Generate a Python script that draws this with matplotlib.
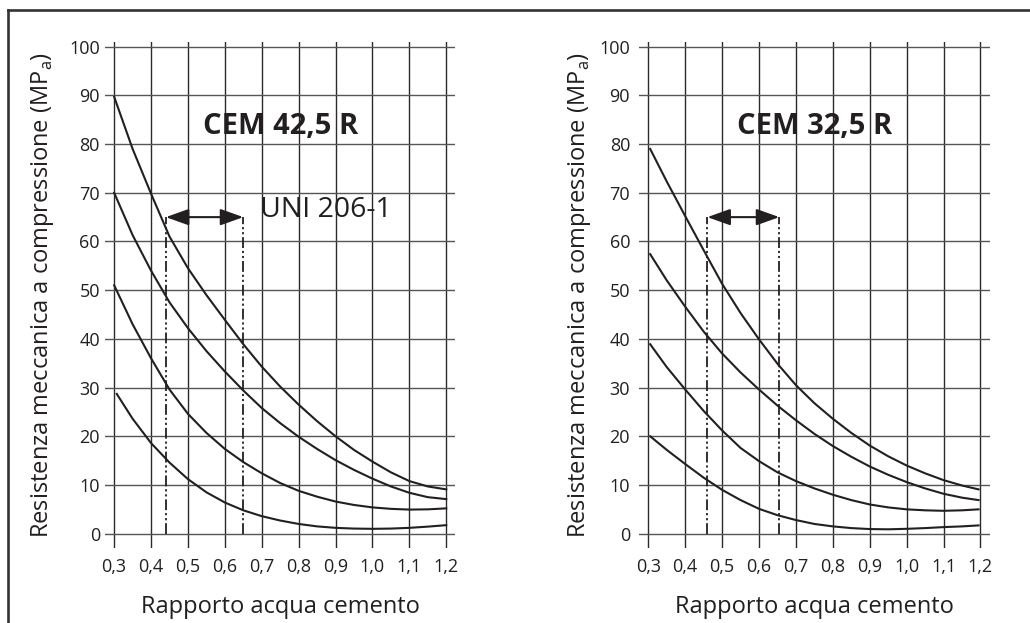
import numpy as np
import matplotlib
matplotlib.use("Agg")
import matplotlib.pyplot as plt
from matplotlib.lines import Line2D

plt.rcParams['font.family'] = ['Open Sans', 'DejaVu Sans']
plt.rcParams['mathtext.fontset'] = 'custom'
plt.rcParams['mathtext.rm'] = 'Open Sans'

# --- data ---
x_ticks = [0.3, 0.4, 0.5, 0.6, 0.7, 0.8, 0.9, 1.0, 1.1, 1.2]
x_tick_labels = ['0,3', '0,4', '0,5', '0,6', '0,7', '0,8', '0,9', '1,0', '1,1', '1,2']
y_ticks = [0, 10, 20, 30, 40, 50, 60, 70, 80, 90, 100]

# CEM 42,5 R
x_42 = [0.3, 0.35, 0.4, 0.45, 0.5, 0.55, 0.6, 0.65, 0.7, 0.75,
        0.8, 0.85, 0.9, 0.95, 1.0, 1.05, 1.1, 1.15, 1.2]
x_42_low = [0.307, 0.35, 0.4, 0.45, 0.5, 0.55, 0.6, 0.65, 0.7, 0.75,
            0.8, 0.85, 0.9, 0.95, 1.0, 1.05, 1.1, 1.15, 1.2]
c42_1 = [89.7, 79.0, 69.8, 61.0, 54.5, 49.0, 43.9, 38.9, 34.3, 30.2,
         26.5, 23.1, 20.0, 17.2, 14.8, 12.6, 10.8, 9.7, 9.1]
c42_2 = [70.0, 61.3, 54.0, 47.5, 42.2, 37.5, 33.3, 29.4, 25.8, 22.7,
         19.9, 17.4, 15.1, 13.1, 11.3, 9.7, 8.4, 7.5, 7.1]
c42_3 = [51.0, 43.0, 36.0, 29.6, 24.6, 20.7, 17.4, 14.7, 12.4, 10.4,
         8.8, 7.6, 6.6, 5.9, 5.4, 5.1, 4.95, 5.0, 5.2]
c42_4 = [28.7, 23.6, 18.6, 14.6, 11.2, 8.5, 6.4, 4.8, 3.6, 2.7,
         2.0, 1.5, 1.2, 1.05, 1.0, 1.05, 1.2, 1.45, 1.75]
uni_42 = [0.44, 0.65]

# CEM 32,5 R
x_32 = [0.305, 0.35, 0.4, 0.45, 0.5, 0.55, 0.6, 0.65, 0.7, 0.75,
        0.8, 0.85, 0.9, 0.95, 1.0, 1.05, 1.1, 1.15, 1.195]
c32_1 = [79.0, 72.3, 65.2, 58.2, 51.3, 45.3, 39.9, 34.9, 30.5, 26.8,
         23.6, 20.7, 18.1, 15.9, 14.0, 12.4, 11.0, 9.9, 9.1]
c32_2 = [57.4, 52.0, 46.6, 41.5, 37.0, 33.1, 29.6, 26.3, 23.3, 20.5,
         18.0, 15.8, 13.8, 12.1, 10.6, 9.3, 8.2, 7.4, 6.9]
c32_3 = [38.9, 34.2, 29.6, 25.2, 21.2, 17.6, 14.9, 12.6, 10.8, 9.3,
         8.0, 6.9, 6.0, 5.4, 5.0, 4.8, 4.7, 4.8, 5.0]
c32_4 = [20.0, 17.2, 14.3, 11.5, 9.0, 6.9, 5.1, 3.8, 2.8, 2.0,
         1.5, 1.15, 0.95, 0.9, 1.0, 1.15, 1.35, 1.5, 1.7]
uni_32 = [0.46, 0.655]
uni_top = 65

ylabel = 'Resistenza meccanica a compressione (MP$_\\mathregular{a}$)'
xlabel = 'Rapporto acqua cemento'

fig = plt.figure(figsize=(10.3, 6.23), dpi=100)
fig.patch.set_facecolor('white')

ax1 = fig.add_axes([0.1019, 0.1199, 0.3403, 0.813])
ax2 = fig.add_axes([0.6205, 0.1199, 0.3403, 0.813])

panels = [
    (ax1, 'CEM 42,5 R', [(x_42, c42_1), (x_42, c42_2), (x_42, c42_3), (x_42_low, c42_4)], uni_42, True, 5),
    (ax2, 'CEM 32,5 R', [(x_32, c32_1), (x_32, c32_2), (x_32, c32_3), (x_32, c32_4)], uni_32, False, 9),
]

for ax, title, curves, uni, show_uni, ypad in panels:
    ax.set_xlim(0.275, 1.225)
    ax.set_ylim(-3, 101)
    for s in ax.spines.values():
        s.set_visible(False)
    ax.set_xticks(x_ticks)
    ax.set_xticklabels(x_tick_labels)
    ax.set_yticks(y_ticks)
    ax.tick_params(axis='both', length=0, labelsize=13, colors='#231f20')
    ax.tick_params(axis='x', pad=7)
    ax.tick_params(axis='y', pad=ypad * 0.72)
    ax.grid(True, axis='y', color='#555555', lw=1.0)
    ax.grid(True, axis='x', color='#2a2a2a', lw=1.0)
    ax.set_axisbelow(True)

    for xs, ys in curves:
        ax.plot(xs, ys, color='#231f20', lw=1.5, solid_joinstyle='round')

    for xv in uni:
        ax.plot([xv, xv], [0, uni_top], color='#231f20', lw=1.3,
                linestyle=(0, (6, 1.6, 1.2, 1.6, 1.2, 1.6)))
    ax.annotate('', xy=(uni[1], uni_top), xytext=(uni[0], uni_top),
                arrowprops=dict(arrowstyle='<|-|>,head_length=0.7,head_width=0.25',
                                mutation_scale=20, color='#231f20', lw=1.5,
                                shrinkA=0, shrinkB=0))
    if show_uni:
        ax.text(0.695, 66.4, 'UNI 206-1', fontsize=20.5, color='#231f20',
                ha='left', va='center')
    ax.text(0.751, 83.6, title, fontsize=21, fontweight='bold', color='#231f20',
            ha='center', va='center')

    ax.set_xlabel(xlabel, fontsize=17, color='#231f20', va='center')
    ax.set_ylabel(ylabel, fontsize=17, color='#231f20', va='center')

ax1.xaxis.set_label_coords(0.5, -0.1153)
ax2.xaxis.set_label_coords(0.5, -0.1153)
ax1.yaxis.set_label_coords(-0.177, 0.5)
ax2.yaxis.set_label_coords(-0.169, 0.5)

# outer frame (open at right and bottom)
fx = 7.5 / 1030
fy = 1 - 9.5 / 623
fig.add_artist(Line2D([fx, fx], [0, fy], color='#333333', lw=1.9, transform=fig.transFigure))
fig.add_artist(Line2D([fx, 1], [fy, fy], color='#333333', lw=1.9, transform=fig.transFigure))

fig.savefig('out.png', dpi=100, facecolor='white')
